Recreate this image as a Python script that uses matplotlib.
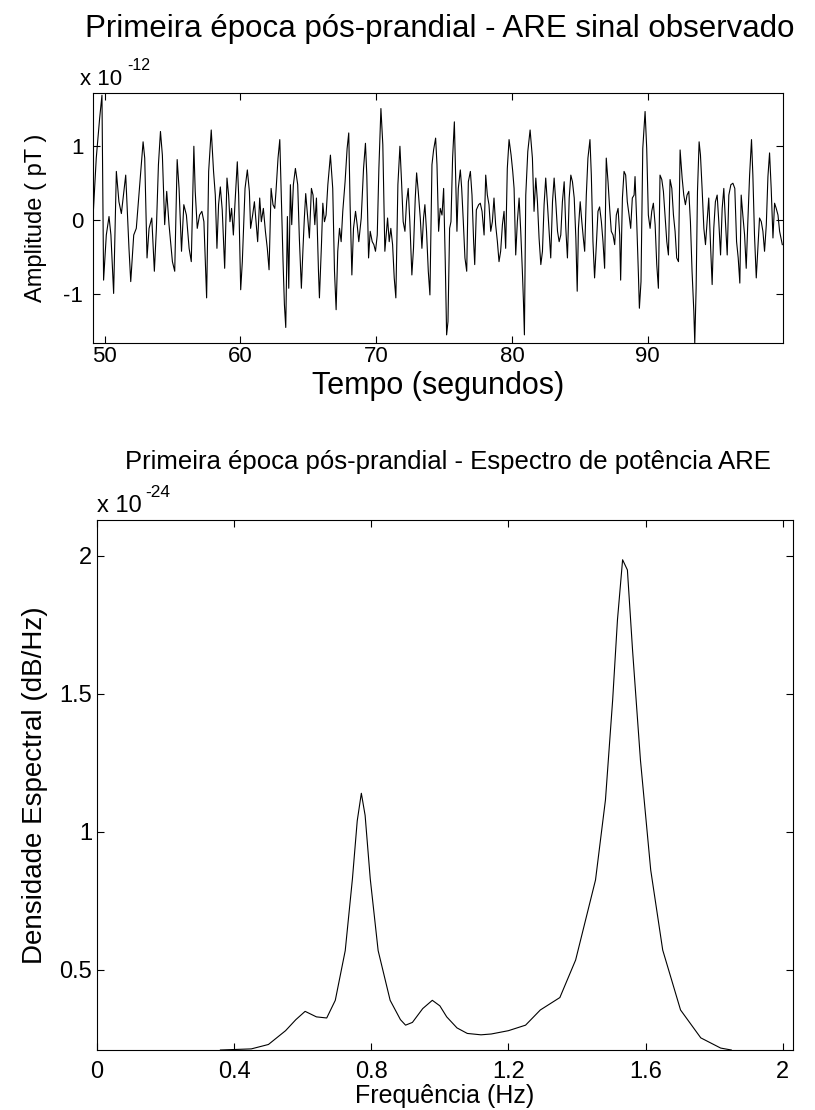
import matplotlib
matplotlib.use("Agg")
import matplotlib.pyplot as plt

plt.rcParams['font.family'] = ['Liberation Sans', 'DejaVu Sans']
plt.rcParams['axes.unicode_minus'] = False

# sinal observado (x 10^-12 pT), extremos
sig_t = [49.14, 49.38, 49.63, 49.80, 49.92, 50.12, 50.32, 50.46, 50.66, 50.86,
         51.05, 51.23, 51.55, 51.79, 51.92, 52.14, 52.33, 52.58, 52.83, 52.95,
         53.12, 53.27, 53.47, 53.66, 53.81, 53.96, 54.11, 54.25, 54.42, 54.57,
         54.74, 54.99, 55.16, 55.34, 55.48, 55.66, 55.83, 56.02, 56.22,
         56.38, 56.57, 56.67, 56.82, 56.99, 57.16, 57.31, 57.51, 57.66, 57.85,
         58.02, 58.15, 58.27, 58.39, 58.52, 58.66, 58.84, 59.01, 59.13, 59.23,
         59.35, 59.48, 59.60, 59.77, 59.87, 60.02, 60.14, 60.34, 60.51, 60.66,
         60.75, 60.90, 61.03, 61.15, 61.27, 61.42, 61.54, 61.69, 61.84, 61.98,
         62.11, 62.26, 62.40, 62.53, 62.62, 62.77, 62.90, 63.02, 63.14, 63.24,
         63.34, 63.46,
         63.56, 63.68, 63.78, 63.90, 64.05, 64.22, 64.34, 64.49, 64.61, 64.71,
         64.81, 64.96, 65.08, 65.23, 65.35, 65.48, 65.60, 65.75, 65.82, 65.97,
         66.07, 66.19, 66.31, 66.44, 66.63, 66.80, 66.93, 67.05, 67.17, 67.30,
         67.42, 67.54, 67.71, 67.86, 67.98, 68.08, 68.21, 68.33, 68.48, 68.60,
         68.72, 68.90, 69.07, 69.21, 69.31, 69.44, 69.56, 69.71, 69.83, 69.95,
         70.08, 70.20, 70.35, 70.49, 70.64,
         70.84, 70.96, 71.08, 71.21, 71.33, 71.45, 71.60, 71.75, 71.87, 71.99,
         72.12, 72.24, 72.36, 72.48, 72.63, 72.75, 72.88, 72.98, 73.10, 73.25,
         73.37, 73.49, 73.59, 73.71, 73.84, 73.96, 74.11, 74.23, 74.38, 74.48,
         74.60, 74.72, 74.85, 74.97, 75.09, 75.19, 75.29, 75.41, 75.51, 75.63,
         75.76, 75.85, 75.95, 76.05, 76.20, 76.30, 76.42, 76.54, 76.67, 76.79,
         76.94, 77.06, 77.18, 77.26, 77.38, 77.55, 77.67, 77.80, 77.95,
         78.07, 78.19, 78.31, 78.44, 78.56, 78.68, 78.80, 78.93, 79.05, 79.17,
         79.30, 79.42, 79.54, 79.66, 79.79, 79.94, 80.06, 80.16, 80.28, 80.40,
         80.53, 80.65, 80.77, 80.85, 80.92, 81.02, 81.17, 81.34, 81.51, 81.63,
         81.76, 81.88, 82.00, 82.13, 82.25, 82.37, 82.49, 82.62, 82.74, 82.86,
         82.99, 83.11, 83.23, 83.36, 83.48, 83.60, 83.72, 83.85, 83.97, 84.09,
         84.22, 84.34, 84.46, 84.59, 84.71, 84.81, 84.90, 85.03, 85.15,
         85.26, 85.36, 85.48, 85.60, 85.75, 85.85, 85.97, 86.09, 86.22, 86.34,
         86.46, 86.59, 86.71, 86.83, 86.95, 87.08, 87.20, 87.32, 87.45, 87.57,
         87.69, 87.82, 87.94, 88.01, 88.14, 88.26, 88.38, 88.50, 88.63, 88.75,
         88.87, 89.00, 89.07, 89.19, 89.32, 89.39, 89.51, 89.64, 89.81, 89.93,
         90.05, 90.18, 90.30, 90.42, 90.55, 90.67, 90.79, 90.91, 91.04, 91.16,
         91.28, 91.41, 91.53, 91.65, 91.78, 91.90, 92.02, 92.14, 92.27, 92.39,
         92.54, 92.66, 92.78, 92.90, 93.03, 93.15, 93.27, 93.40, 93.47, 93.57,
         93.67, 93.79, 93.89, 94.01, 94.14, 94.26, 94.38, 94.50, 94.63, 94.75,
         94.87, 94.99, 95.12, 95.24, 95.37, 95.49, 95.61, 95.73, 95.86, 95.98,
         96.13, 96.28, 96.42, 96.55, 96.67, 96.79, 96.89, 97.01, 97.14, 97.26,
         97.38, 97.51, 97.65, 97.75, 97.87, 98.00, 98.12, 98.24, 98.37, 98.49,
         98.61, 98.74, 98.86, 98.98, 99.10, 99.23, 99.35, 99.47, 99.60, 99.72,
         99.92]

sig_amp = [0.03, 0.84, 1.38, 1.69, -0.81, -0.20, 0.05, -0.20, -0.99, 0.66,
           0.25, 0.09, 0.61, -0.38, -0.83, -0.20, -0.11, 0.48, 1.06, 0.84,
           -0.51, -0.11, 0.03, -0.69, -0.11, 0.75, 1.20, 0.88, -0.06, 0.39,
           -0.06, -0.56, -0.69, 0.82, 0.43, -0.42, 0.21, 0.07, -0.38,
           -0.56, 1.00, 0.39, -0.11, 0.07, 0.12, -0.02, -1.05, 0.66, 1.22,
           0.66, 0.34, -0.38, 0.21, 0.45, 0.14, -0.65, 0.57, 0.34, -0.02,
           0.16, -0.20, 0.23, 0.79, 0.34, -0.94, -0.56, 0.43, 0.68, 0.39,
           -0.11, 0.07, 0.25, -0.02, -0.29, 0.30, -0.02, 0.16, -0.15, -0.38,
           -0.67, 0.43, 0.21, 0.16, 0.39, 0.84, 1.09, 0.25, -0.56, -1.14,
           -1.45, 0.05,
           -0.92, 0.48, -0.06, 0.48, 0.70, 0.48, -0.24, -0.92, -0.38, 0.03,
           0.36, 0.03, -0.24, 0.43, 0.34, -0.06, 0.30, -0.69, -1.05, -0.33,
           0.23, -0.02, 0.07, 0.48, 0.88, 0.43, -0.69, -1.21, -0.42, -0.11,
           -0.29, 0.12, 0.52, 0.97, 1.18, 0.21, -0.74, -0.11, 0.12, -0.06,
           -0.29, 0.03, 0.70, 1.04, 0.61, -0.51, -0.15, -0.29, -0.33, -0.42,
           -0.20, 0.70, 1.51, 1.02, -0.42,
           0.03, -0.29, -0.11, -0.33, -0.78, -1.05, 0.48, 1.00, 0.52, -0.02,
           -0.15, 0.25, 0.43, -0.02, -0.74, -0.38, 0.30, 0.64, 0.39, 0.03,
           -0.38, 0.03, 0.21, -0.15, -0.69, -1.01, 0.75, 0.95, 1.11, 0.75,
           -0.15, 0.16, 0.07, 0.43, -0.56, -1.55, -1.37, -0.11, -0.02, 0.84,
           1.33, 0.61, -0.15, 0.43, 0.68, 0.43, -0.02, -0.51, -0.69, 0.52,
           0.66, 0.34, -0.29, -0.60, 0.14, 0.21, 0.23, 0.12, -0.20,
           0.61, 0.34, 0.21, -0.15, -0.02, 0.30, -0.06, -0.29, -0.56, -0.42,
           -0.06, 0.12, -0.38, 0.70, 1.09, 0.88, 0.66, 0.43, -0.47, -0.02,
           0.30, -0.15, -0.69, -1.10, -1.55, 0.34, 0.93, 1.22, 0.84, 0.12,
           0.57, 0.25, -0.24, -0.60, -0.42, 0.21, 0.57, 0.21, -0.15, -0.51,
           0.25, 0.57, 0.25, -0.15, -0.29, -0.20, 0.25, 0.52, -0.11, -0.51,
           0.30, 0.61, 0.52, 0.30, -0.24, -0.96, -0.11, 0.25, -0.02,
           -0.24, -0.42, 0.34, 0.84, 1.09, 0.61, -0.29, -0.78, -0.33, 0.12,
           0.18, -0.02, -0.29, -0.65, 0.84, 0.52, 0.16, -0.15, -0.20, -0.33,
           0.07, 0.16, -0.20, -0.81, 0.30, 0.66, 0.61, 0.25, 0.07, -0.11,
           0.30, 0.34, 0.59, 0.00, -0.74, -1.19, -0.83, 0.97, 1.47, 0.97,
           0.07, -0.11, 0.12, 0.23, -0.06, -0.60, -0.92, 0.61, 0.55, 0.39,
           0.07, -0.29, -0.47, 0.55, 0.43, 0.07, -0.15, -0.51, -0.56, 0.95,
           0.57, 0.34, 0.21, 0.34, 0.39, -0.02, -0.69, -1.23, -1.66, -0.92,
           0.39, 1.06, 0.88, 0.43, -0.11, -0.33, -0.02, 0.30, -0.33, -0.87,
           -0.11, 0.25, 0.34, -0.02, -0.47, 0.16, 0.43, -0.02, -0.47, 0.34,
           0.48, 0.50, 0.43, -0.29, -0.51, -0.85, 0.34, 0.07, -0.20, -0.65,
           -0.02, 0.61, 1.09, 0.61, -0.20, -0.78, -0.38, 0.03, -0.02, -0.15,
           -0.42, -0.06, 0.59, 0.91, 0.43, -0.24, 0.23, 0.16, 0.07, -0.15,
           -0.33]

# espectro de potencia (x 10^-24)
freq = [0.36, 0.45, 0.50, 0.55, 0.58, 0.607, 0.64, 0.67, 0.695, 0.724,
        0.745, 0.759, 0.771, 0.782, 0.797, 0.820, 0.855, 0.885, 0.90, 0.92,
        0.95, 0.978, 1.00, 1.02, 1.05, 1.08, 1.12, 1.15, 1.20, 1.25,
        1.293, 1.35, 1.396, 1.454, 1.483, 1.504, 1.518, 1.533, 1.547, 1.562,
        1.585, 1.615, 1.65, 1.702, 1.761, 1.819, 1.85]
psd = [0.21, 0.214, 0.23, 0.28, 0.32, 0.35, 0.33, 0.326, 0.39, 0.57,
       0.83, 1.04, 1.14, 1.06, 0.83, 0.57, 0.39, 0.32, 0.30, 0.31,
       0.36, 0.39, 0.37, 0.33, 0.29, 0.27, 0.265, 0.268, 0.28, 0.30,
       0.355, 0.40, 0.536, 0.826, 1.116, 1.478, 1.768, 1.986, 1.949, 1.659,
       1.261, 0.862, 0.572, 0.355, 0.254, 0.217, 0.21]

W, H = 815, 1110
fig = plt.figure(figsize=(W / 100, H / 100), dpi=100)

# --- sinal ---
ax1 = fig.add_axes([93 / W, 1 - 343 / H, 690 / W, 250 / H])
ax1.plot(sig_t, sig_amp, color='black', linewidth=0.8)
ax1.set_xlim(49.14, 99.97)
ax1.set_ylim(-1.66, 1.72)
ax1.set_xticks([50, 60, 70, 80, 90])
ax1.set_yticks([-1, 0, 1])
ax1.tick_params(direction='in', length=5, top=True, right=True, labelsize=16, width=0.8)
ax1.tick_params(axis='x', pad=2)
ax1.tick_params(axis='y', pad=7)
ax1.set_xlabel('Tempo (segundos)', fontsize=22, labelpad=3)
ax1.set_ylabel('Amplitude ( pT )', fontsize=17, labelpad=12)
fig.text(80 / W, 1 - 85 / H, 'x 10', fontsize=16, va='baseline')
fig.text(127 / W, 1 - 70 / H, '-12', fontsize=11.5, va='baseline')
fig.text(0.54, 0.974, 'Primeira época pós-prandial - ARE sinal observado', fontsize=22.5,
         ha='center', va='center')

# --- espectro ---
ax2 = fig.add_axes([97 / W, 1 - 1050 / H, 696 / W, 530 / H])
ax2.plot(freq, psd, color='black', linewidth=0.8)
ax2.set_xlim(0, 2.03)
ax2.set_ylim(0.21, 2.13)
ax2.set_xticks([0, 0.4, 0.8, 1.2, 1.6, 2])
ax2.set_xticklabels(['0', '0.4', '0.8', '1.2', '1.6', '2'])
ax2.set_yticks([0.5, 1, 1.5, 2])
ax2.set_yticklabels(['0.5', '1', '1.5', '2'])
ax2.tick_params(direction='in', length=5, top=True, right=True, labelsize=17, width=0.8)
ax2.tick_params(axis='x', pad=8)
ax2.set_xlabel('Frequência (Hz)', fontsize=18, labelpad=1)
ax2.set_ylabel('Densidade Espectral (dB/Hz)', fontsize=20, labelpad=8)
fig.text(97 / W, 1 - 512 / H, 'x 10', fontsize=17, va='baseline')
fig.text(145 / W, 1 - 497 / H, '-24', fontsize=12.5, va='baseline')
fig.text(0.55, 0.584, 'Primeira época pós-prandial - Espectro de potência ARE', fontsize=18.5,
         ha='center', va='center')

fig.savefig('out.png', dpi=100)
